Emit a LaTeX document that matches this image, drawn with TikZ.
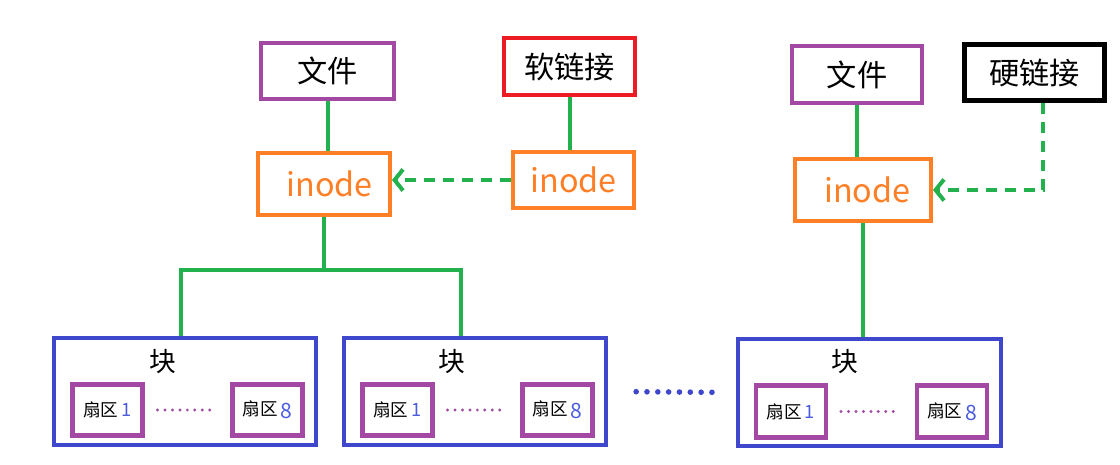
\documentclass[tikz,border=0pt]{standalone}
\usepackage{fontspec}
\setmainfont{Noto Sans CJK SC}
\usepackage{xcolor}
\definecolor{filePurple}{HTML}{A349A4}
\definecolor{softRed}{HTML}{ED1C24}
\definecolor{inodeOrange}{HTML}{FF7F27}
\definecolor{blockBlue}{HTML}{3F48CC}
\definecolor{numBlue}{HTML}{4B5BE0}
\definecolor{linkGreen}{HTML}{22B14C}
\usepackage{tikz}
\usetikzlibrary{arrows.meta}

\begin{document}
\begin{tikzpicture}[
		x=0.025cm, y=-0.025cm,
		box/.style={
			draw,
			line width=0.1cm,
			inner sep=0pt,
			align=center
		},
		filebox/.style={box, draw=filePurple, minimum width=3.3cm, minimum height=1.4cm,
			font=\fontsize{21.5}{24}\selectfont},
		linkbox/.style={box, minimum height=1.4cm, font=\fontsize{21.5}{24}\selectfont},
		inodebox/.style={box, draw=inodeOrange, text=inodeOrange, minimum height=1.55cm,
			font=\fontsize{23}{26}\selectfont},
		blockbox/.style={box, draw=blockBlue, minimum width=6.55cm, minimum height=2.68cm},
		sectorbox/.style={box, draw=filePurple, line width=0.12cm, minimum width=1.75cm,
			minimum height=1.28cm, font=\fontsize{12.5}{14}\selectfont},
		blocklabel/.style={font=\fontsize{19}{22}\selectfont, inner sep=0pt},
		link/.style={linkGreen, line width=0.1cm},
		dlink/.style={link, dash pattern=on 8pt off 5.5pt,
			-{Straight Barb[length=6pt, width=15pt, line width=0.1cm]}},
		sdots/.style={filePurple, line width=2.3pt, line cap=round,
			dash pattern=on 0pt off 5.3pt},
		bdots/.style={blockBlue, line width=4pt, line cap=round,
			dash pattern=on 0pt off 7.7pt}
		]
		\useasboundingbox (0,0) rectangle (1120,465);
		
		% left side: file, soft link
		\node[filebox] (file1) at (327.5,71) {文件};
		\node[linkbox, draw=softRed, minimum width=3.28cm] (soft) at (569.5,66.5) {软链接};
		\node[inodebox, minimum width=3.3cm] (inode1) at (324,184) {\hspace*{8pt}inode};
		\node[inodebox, minimum width=3.03cm, minimum height=1.4cm] (inode2) at (573.5,180) {inode};
		
		% right side: file, hard link
		\node[filebox, minimum width=3.25cm] (file2) at (857,74.5) {文件};
		\node[linkbox, draw=black, line width=0.13cm, minimum width=3.5cm] (hard) at (1034.5,72.5) {硬链接};
		\node[inodebox, minimum width=3.4cm] (inode3) at (863,190) {\hspace*{6pt}inode};
		
		% blocks
		\node[blockbox] (block1) at (185,391.5) {};
		\node[blockbox] (block2) at (475,391.5) {};
		\node[blockbox] (block3) at (869.5,392.5) {};
		\node[blocklabel] (lbl1) at (163,362) {块};
		\node[blocklabel] (lbl2) at (452,362) {块};
		\node[blocklabel] (lbl3) at (845,362) {块};
		
		% sectors
		\node[sectorbox] (b1s1) at (107.5,410) {扇区\,\textcolor{numBlue}{\fontsize{13}{14}\selectfont 1}};
		\node[sectorbox] (b1s8) at (267.5,410) {扇区\,\textcolor{numBlue}{\fontsize{15}{14}\selectfont\raisebox{-2pt}{8}}};
		\node[sectorbox] (b2s1) at (397.5,410) {扇区\,\textcolor{numBlue}{\fontsize{13}{14}\selectfont 1}};
		\node[sectorbox] (b2s8) at (557.5,410) {扇区\,\textcolor{numBlue}{\fontsize{15}{14}\selectfont\raisebox{-2pt}{8}}};
		\node[sectorbox] (b3s1) at (791,411.5) {扇区\,\textcolor{numBlue}{\fontsize{13}{14}\selectfont 1}};
		\node[sectorbox] (b3s8) at (952,411.5) {扇区\,\textcolor{numBlue}{\fontsize{15}{14}\selectfont\raisebox{-2pt}{8}}};
		
		\draw[sdots, shorten <=9pt, shorten >=14pt] (b1s1.east) -- (b1s8.west);
		\draw[sdots, shorten <=9pt, shorten >=14pt] (b2s1.east) -- (b2s8.west);
		\draw[sdots, shorten <=9pt, shorten >=14pt] (b3s1.east) -- (b3s8.west);
		\draw[bdots, shorten <=20pt, shorten >=16pt] (block2.east) -- (block3.west);
		
		% links
		\coordinate (j1) at (181,270);
		\coordinate (j2) at (461,270);
		\coordinate (hbend) at (1043,190);
		\draw[link] (file1.south) -- (file1.south |- inode1.north);
		\draw[link] (soft.south) -- (soft.south |- inode2.north);
		\draw[link] (file2.south) -- (file2.south |- inode3.north);
		\draw[link] (inode1.south) -- (inode1.south |- j1);
		\draw[link] (j1 |- block1.north) -- (j1) -- (j2) -- (j2 |- block2.north);
		\draw[link] (inode3.south) -- (inode3.south |- block3.north);
		\draw[dlink] (inode2.west) -- (inode2.west -| inode1.east);
		\draw[dlink] (hbend |- hard.south) -- (hbend) -- (inode3.east |- hbend);
		
	\end{tikzpicture}
\end{document}
